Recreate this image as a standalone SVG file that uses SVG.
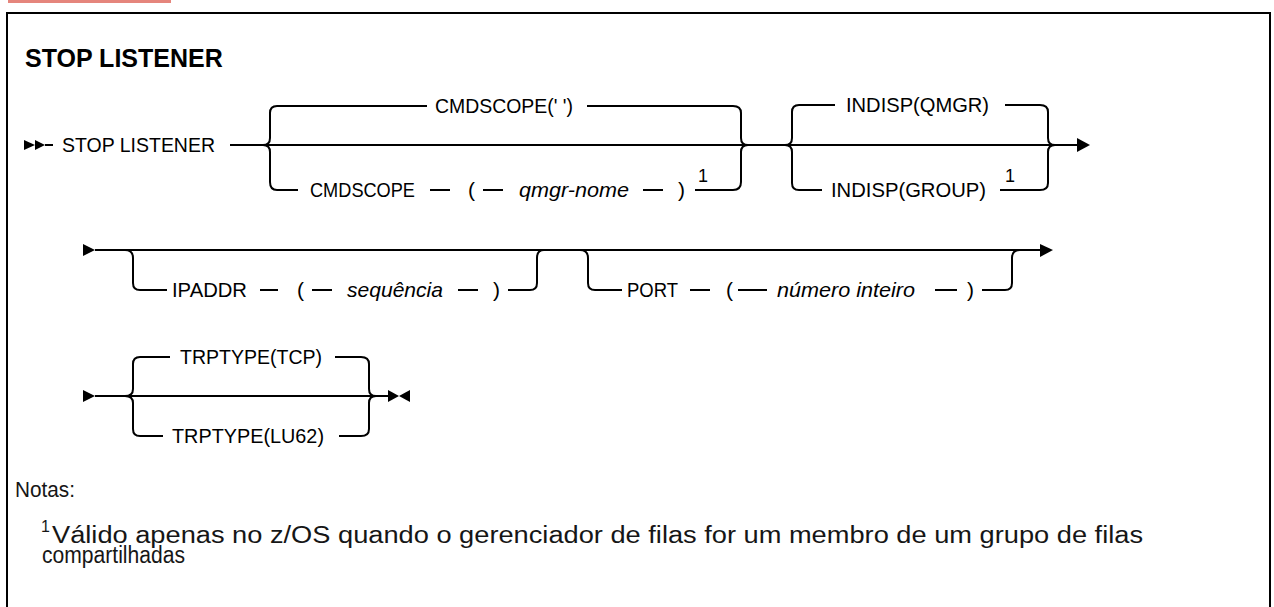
<svg xmlns="http://www.w3.org/2000/svg" width="1274" height="607" viewBox="0 0 1274 607">
<style>
.ln{fill:none;stroke:#000;stroke-width:2}
.t{font-family:"Liberation Sans",Arial,sans-serif;font-size:21px;fill:#000}
.n{font-family:"Liberation Sans",Arial,sans-serif;font-size:22px;fill:#161616}
.i{font-style:italic}
.sup{font-family:"Liberation Sans",Arial,sans-serif;font-size:18px;fill:#000}
.ttl{font-family:"Liberation Sans",Arial,sans-serif;font-size:25px;font-weight:bold;fill:#000}
.ah{fill:#000}
</style>
<rect x="0" y="0" width="1274" height="607" fill="#fff"/>
<rect x="8" y="0" width="163" height="3" fill="#e5857c"/>
<rect x="7" y="13" width="1263" height="610" fill="none" stroke="#000" stroke-width="2"/>
<text class="ttl" x="25" y="67">STOP LISTENER</text>

<g id="connectors">
  <!-- row 1 -->
  <polygon class="ah" points="24,140 35,145 24,150"/>
  <polygon class="ah" points="35,140 45,145 35,150"/>
  <path class="ln" d="M45,145 H53"/>
  <path class="ln" d="M230,145 H1077"/>
  <polygon class="ah" points="1077,138 1090,145 1077,152"/>
  <!-- CMDSCOPE group -->
  <path class="ln" d="M263,145 Q270,145 270,138 V113 Q270,106 277,106 H427"/>
  <path class="ln" d="M587,106 H733 Q741,106 741,113 V138 Q741,145 748,145"/>
  <path class="ln" d="M263,145 Q270,145 270,152 V182 Q270,190 277,190 H298"/>
  <path class="ln" d="M430,190 H450 M483,190 H503 M643,190 H663"/>
  <path class="ln" d="M695,190 H733 Q741,190 741,182 V152 Q741,145 748,145"/>
  <!-- INDISP group -->
  <path class="ln" d="M785,145 Q792,145 792,138 V112 Q792,105 799,105 H835"/>
  <path class="ln" d="M1005,105 H1040 Q1048,105 1048,112 V138 Q1048,145 1055,145"/>
  <path class="ln" d="M785,145 Q792,145 792,152 V183 Q792,190 799,190 H822"/>
  <path class="ln" d="M1000,190 H1040 Q1048,190 1048,183 V152 Q1048,145 1055,145"/>

  <!-- row 2 -->
  <polygon class="ah" points="83,244 95,250 83,256"/>
  <path class="ln" d="M95,250 H1040"/>
  <polygon class="ah" points="1040,244 1053,250 1040,257"/>
  <path class="ln" d="M125,250 Q133,250 133,258 V283 Q133,290 140,290 H167"/>
  <path class="ln" d="M260,290 H278 M312,290 H332 M458,290 H478"/>
  <path class="ln" d="M508,290 H530 Q537,290 537,283 V258 Q537,250 544,250"/>
  <path class="ln" d="M580,250 Q588,250 588,258 V283 Q588,290 595,290 H622"/>
  <path class="ln" d="M690,290 H710 M738,290 H767 M935,290 H957"/>
  <path class="ln" d="M982,290 H1005 Q1012,290 1012,283 V258 Q1012,250 1020,250"/>

  <!-- row 3 -->
  <polygon class="ah" points="83,390 95,396 83,402"/>
  <path class="ln" d="M95,396 H388"/>
  <polygon class="ah" points="388,390 399,396 388,402"/>
  <polygon class="ah" points="410,390 399,396 410,402"/>
  <path class="ln" d="M125,396 Q133,396 133,389 V364 Q133,357 140,357 H170"/>
  <path class="ln" d="M335,357 H361 Q369,357 369,364 V389 Q369,396 376,396"/>
  <path class="ln" d="M125,396 Q133,396 133,403 V429 Q133,436 140,436 H163"/>
  <path class="ln" d="M339,436 H361 Q369,436 369,429 V403 Q369,396 376,396"/>
</g>

<g id="node-stop-listener"><text class="t" x="62" y="152" textLength="153" lengthAdjust="spacingAndGlyphs">STOP LISTENER</text></g>
<g id="node-cmdscope-default"><text class="t" x="435" y="113" textLength="138" lengthAdjust="spacingAndGlyphs">CMDSCOPE(' ')</text></g>
<g id="node-cmdscope-qmgr">
  <text class="t" x="310" y="197" textLength="105" lengthAdjust="spacingAndGlyphs">CMDSCOPE</text>
  <text class="t" x="468" y="197">(</text>
  <text class="t i" x="519" y="197" textLength="110" lengthAdjust="spacingAndGlyphs">qmgr-nome</text>
  <text class="t" x="678" y="197">)</text>
  <text class="sup" x="698" y="182">1</text>
</g>
<g id="node-indisp-qmgr"><text class="t" x="846" y="112" textLength="143" lengthAdjust="spacingAndGlyphs">INDISP(QMGR)</text></g>
<g id="node-indisp-group">
  <text class="t" x="831" y="197" textLength="155" lengthAdjust="spacingAndGlyphs">INDISP(GROUP)</text>
  <text class="sup" x="1005" y="182">1</text>
</g>
<g id="node-ipaddr">
  <text class="t" x="172" y="297" textLength="75" lengthAdjust="spacingAndGlyphs">IPADDR</text>
  <text class="t" x="297" y="297">(</text>
  <text class="t i" x="347" y="297" textLength="96" lengthAdjust="spacingAndGlyphs">sequência</text>
  <text class="t" x="493" y="297">)</text>
</g>
<g id="node-port">
  <text class="t" x="627" y="297" textLength="51" lengthAdjust="spacingAndGlyphs">PORT</text>
  <text class="t" x="726" y="297">(</text>
  <text class="t i" x="777" y="297" textLength="138" lengthAdjust="spacingAndGlyphs">número inteiro</text>
  <text class="t" x="967" y="297">)</text>
</g>
<g id="node-trptype-tcp"><text class="t" x="180" y="364" textLength="142" lengthAdjust="spacingAndGlyphs">TRPTYPE(TCP)</text></g>
<g id="node-trptype-lu62"><text class="t" x="172" y="443" textLength="152" lengthAdjust="spacingAndGlyphs">TRPTYPE(LU62)</text></g>

<g id="notes">
  <text class="n" x="15" y="497" textLength="60" lengthAdjust="spacingAndGlyphs">Notas:</text>
  <text class="n" style="font-size:23px"><tspan x="41" y="532" style="font-size:16px">1</tspan><tspan x="52" y="543" textLength="1091" lengthAdjust="spacingAndGlyphs">Válido apenas no z/OS quando o gerenciador de filas for um membro de um grupo de filas</tspan><tspan x="42" y="563" textLength="143" lengthAdjust="spacingAndGlyphs">compartilhadas</tspan></text>
</g>
</svg>
